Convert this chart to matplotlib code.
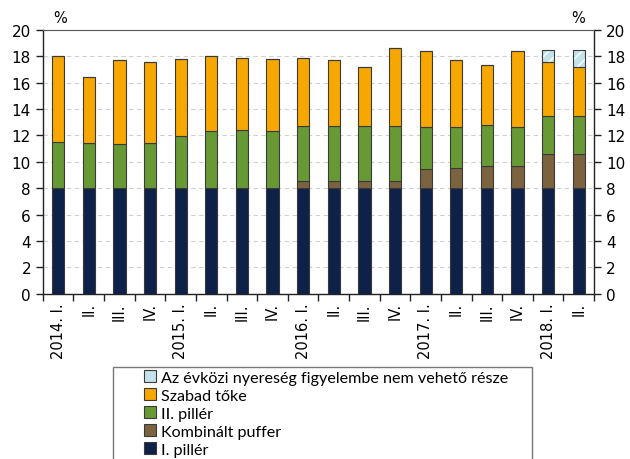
import numpy as np
import matplotlib
matplotlib.use("Agg")
import matplotlib.pyplot as plt
from matplotlib.patches import Rectangle, Patch

plt.rcParams['font.family'] = ['DejaVu Sans']
plt.rcParams['hatch.linewidth'] = 1.2

# Quarterly capital requirement components (%)
quarters = ['2014. I.', 'II.', 'III.', 'IV.',
            '2015. I.', 'II.', 'III.', 'IV.',
            '2016. I.', 'II.', 'III.', 'IV.',
            '2017. I.', 'II.', 'III.', 'IV.',
            '2018. I.', 'II.']
pillar1 = [8.0] * 18
combined_buffer = [0.0, 0.0, 0.0, 0.0, 0.0, 0.0, 0.0, 0.0,
                   0.55, 0.52, 0.52, 0.52, 1.45, 1.52, 1.72, 1.67, 2.58, 2.58]
pillar2 = [3.47, 3.42, 3.34, 3.42, 3.99, 4.35, 4.4, 4.35,
           4.18, 4.19, 4.19, 4.19, 3.2, 3.11, 3.06, 2.98, 2.88, 2.88]
free_capital = [6.51, 4.97, 6.39, 6.18, 5.79, 5.68, 5.45, 5.43,
                5.12, 4.97, 4.51, 5.95, 5.71, 5.1, 4.52, 5.75, 4.14, 3.69]
excluded_profit = [0.0] * 16 + [0.86, 1.31]

series = [
    ('I. pillér', pillar1, '#0e2148', None),
    ('Kombinált puffer', combined_buffer, '#7b6340', None),
    ('II. pillér', pillar2, '#679a35', None),
    ('Szabad tőke', free_capital, '#f7a800', None),
    ('Az évközi nyereség figyelembe nem vehető része', excluded_profit, '#c3e2ea', '///'),
]
edge = '#3a3a3a'

fig = plt.figure(figsize=(6.3, 4.6), dpi=100)
ax = fig.add_axes([0.068, 0.359, 0.875, 0.574])

x = np.arange(len(quarters))
bottom = np.zeros(len(quarters))
handles = []
for label, vals, color, hatch in series:
    vals = np.array(vals)
    if hatch:
        # white hatch lines first, dark outline on top
        ax.bar(x, vals, width=0.4, bottom=bottom, color=color,
               edgecolor='#f4fbfd', linewidth=0, hatch=hatch, zorder=3)
        ax.bar(x, vals, width=0.4, bottom=bottom, fill=False,
               edgecolor=edge, linewidth=0.8, zorder=4)
    else:
        ax.bar(x, vals, width=0.4, bottom=bottom, color=color,
               edgecolor=edge, linewidth=0.8, zorder=3)
    handles.append(Patch(facecolor=color, edgecolor=edge, linewidth=0.8))
    bottom += vals

ax.set_xlim(-0.5, len(quarters) - 0.5)
ax.set_ylim(0, 20)
ax.set_yticks(np.arange(0, 21, 2))
ax.yaxis.grid(True, linestyle=(0, (4, 3)), color='#d0d0d0', linewidth=0.8, zorder=0)

# category labels at bar centres, tick marks between categories
ax.set_xticks(x)
ax.set_xticklabels(quarters, rotation=90, fontsize=10.5)
ax.tick_params(axis='x', length=0, pad=6)
ax.set_xticks(np.arange(-0.5, len(quarters), 1), minor=True)
ax.tick_params(axis='x', which='minor', length=5, direction='out', width=1, color='#222222')

ax.tick_params(axis='y', labelsize=11, length=5, width=1, direction='out',
               right=True, labelright=True, color='#222222')

for side in ['left', 'right', 'bottom']:
    ax.spines[side].set_color('#222222')
    ax.spines[side].set_linewidth(1)
ax.spines['top'].set_color('#555555')
ax.spines['top'].set_linewidth(0.8)

fig.text(0.095, 0.96, '%', fontsize=10.5, ha='center', va='center')
fig.text(0.918, 0.96, '%', fontsize=10.5, ha='center', va='center')

# legend frame runs past the bottom edge of the figure
fig.patches.append(Rectangle((0.179, -0.1), 0.665, 0.3, transform=fig.transFigure,
                             facecolor='white', edgecolor='#777777', linewidth=1))

leg = fig.legend(handles[::-1], [s[0] for s in series][::-1],
                 loc='upper left', bbox_to_anchor=(0.229, 0.193),
                 ncol=1, frameon=False,
                 handlelength=0.75, handleheight=0.75, handletextpad=0.3,
                 labelspacing=0.22, borderpad=0, borderaxespad=0,
                 prop={'family': 'Lato', 'size': 11.6})

fig.savefig('out.png', dpi=100)
